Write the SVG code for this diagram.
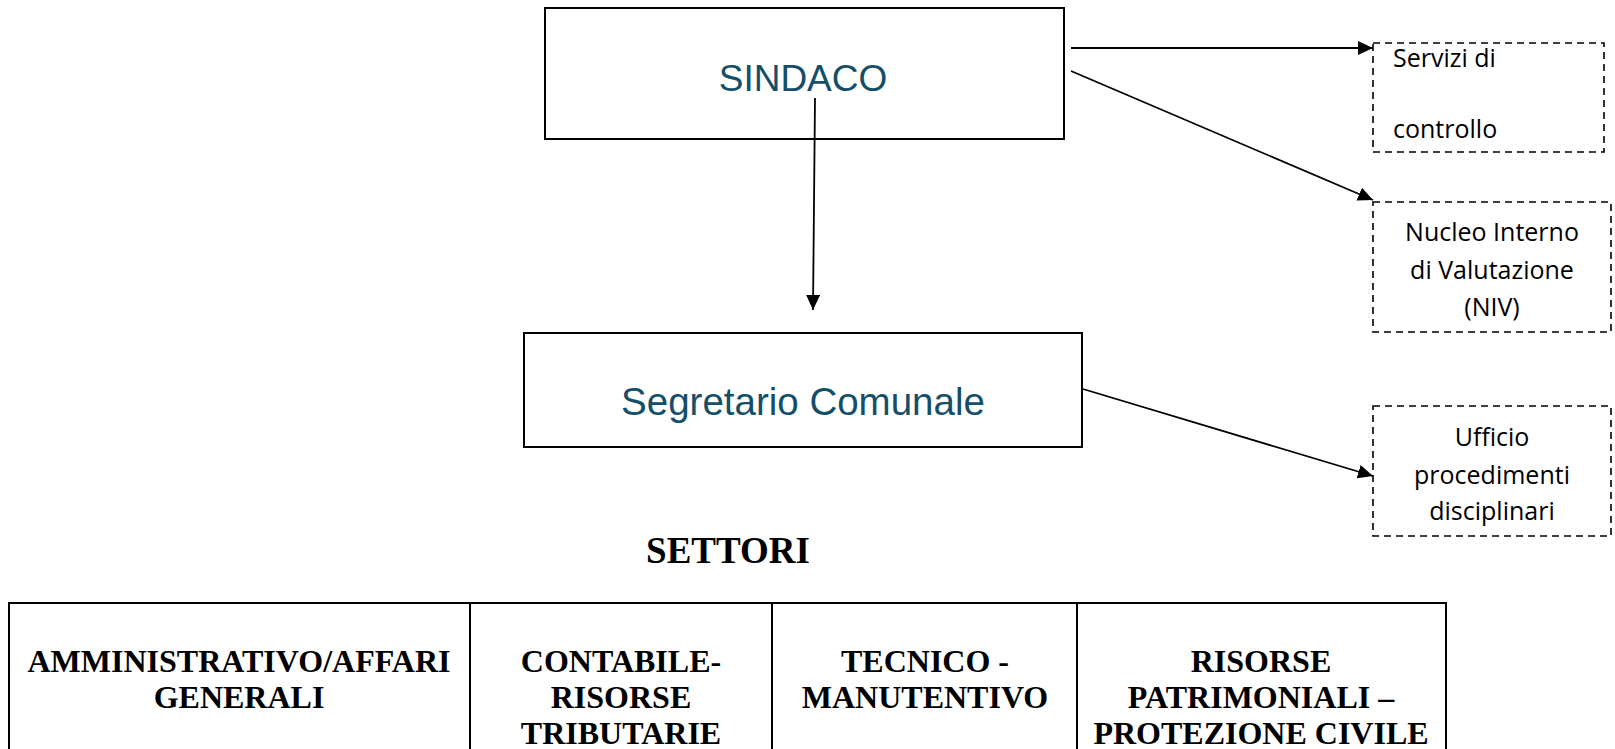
<svg xmlns="http://www.w3.org/2000/svg" width="1615" height="749" viewBox="0 0 1615 749">
<style>
.box{fill:#fff;stroke:#000;stroke-width:2}
.dbox{fill:#fff;stroke:#000;stroke-width:1.6;stroke-dasharray:7 5}
.main{font-family:"Liberation Sans",Arial,sans-serif;font-size:37px;fill:#154e68;text-anchor:middle}
.side{font-family:"Open Sans","Noto Sans",sans-serif;font-size:25px;fill:#000}
.mid{text-anchor:middle}
.tbl{font-family:"Liberation Serif","Times New Roman",serif;font-weight:bold;font-size:32px;fill:#000;text-anchor:middle}
.conn{stroke:#000;stroke-width:1.8;fill:none;marker-end:url(#ah)}
</style>
<defs>
<marker id="ah" viewBox="0 0 10 10" refX="10" refY="5" markerWidth="15" markerHeight="14" markerUnits="userSpaceOnUse" orient="auto" preserveAspectRatio="none">
<path d="M0,0 L10,5 L0,10 z" fill="#000"/>
</marker>
</defs>
<rect width="1615" height="749" fill="#fff"/>

<g id="sindaco">
<rect class="box" x="545" y="8" width="519" height="131"/>
<text class="main" x="803" y="91">SINDACO</text>
</g>

<g id="segretario">
<rect class="box" x="524" y="333" width="558" height="114"/>
<text class="main" x="803" y="415" style="font-size:38.5px">Segretario Comunale</text>
</g>

<g id="servizi">
<rect class="dbox" x="1373" y="43" width="231" height="109"/>
<text class="side" x="1393" y="67">Servizi di</text>
<text class="side" x="1393" y="138">controllo</text>
</g>

<g id="niv">
<rect class="dbox" x="1373" y="202" width="238" height="130"/>
<text class="side mid" x="1492" y="241">Nucleo Interno</text>
<text class="side mid" x="1492" y="279">di Valutazione</text>
<text class="side mid" x="1492" y="316">(NIV)</text>
</g>

<g id="upd">
<rect class="dbox" x="1373" y="406" width="238" height="130"/>
<text class="side mid" x="1492" y="446">Ufficio</text>
<text class="side mid" x="1492" y="484">procedimenti</text>
<text class="side mid" x="1492" y="520">disciplinari</text>
</g>

<g id="settori-title">
<text class="tbl" x="728" y="563" style="font-size:37px">SETTORI</text>
</g>

<g id="settori">
<rect x="9" y="603" width="1437" height="170" fill="none" stroke="#000" stroke-width="2"/>
<line x1="470" y1="603" x2="470" y2="773" stroke="#000" stroke-width="2"/>
<line x1="772" y1="603" x2="772" y2="773" stroke="#000" stroke-width="2"/>
<line x1="1077" y1="603" x2="1077" y2="773" stroke="#000" stroke-width="2"/>
<g id="s1">
<text class="tbl" x="239" y="672">AMMINISTRATIVO/AFFARI</text>
<text class="tbl" x="239" y="708">GENERALI</text>
</g>
<g id="s2">
<text class="tbl" x="621" y="672">CONTABILE-</text>
<text class="tbl" x="621" y="708">RISORSE</text>
<text class="tbl" x="621" y="744">TRIBUTARIE</text>
</g>
<g id="s3">
<text class="tbl" x="925" y="672">TECNICO -</text>
<text class="tbl" x="925" y="708">MANUTENTIVO</text>
</g>
<g id="s4">
<text class="tbl" x="1261" y="672">RISORSE</text>
<text class="tbl" x="1261" y="708">PATRIMONIALI –</text>
<text class="tbl" x="1261" y="744">PROTEZIONE CIVILE</text>
</g>
</g>

<g id="connectors">
<line class="conn" x1="815" y1="98" x2="813" y2="310"/>
<line class="conn" x1="1071" y1="48" x2="1373" y2="48"/>
<line class="conn" x1="1071" y1="71" x2="1373" y2="200"/>
<line class="conn" x1="1083" y1="389" x2="1373" y2="476"/>
</g>
</svg>
